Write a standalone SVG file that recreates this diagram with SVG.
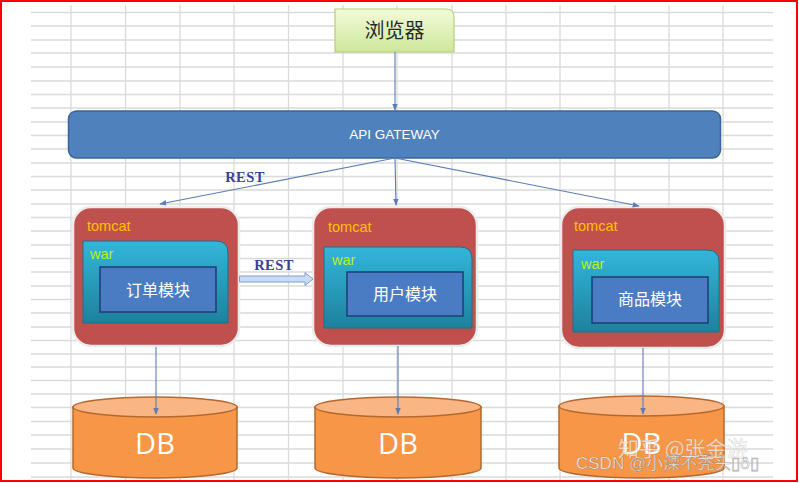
<svg xmlns="http://www.w3.org/2000/svg" width="799" height="483" viewBox="0 0 799 483">
<style>
.grid line{stroke:#dadada;stroke-width:1.3}
.conn{stroke:#5a7db5;stroke-width:1.1;fill:none}
.tomcat{fill:#c0504d;stroke:#ececec;stroke-width:2.5}
.war{fill:url(#warG);stroke:#1c7088;stroke-width:1}
.mod{fill:#4a7cc4;stroke:#1e3d72;stroke-width:1.5}
.modt{font-family:"Noto Sans CJK SC",sans-serif;font-size:16px;fill:#fff;text-anchor:middle}
.tl{font-family:"Liberation Sans",Arial,sans-serif;font-size:14.5px;fill:#ffc000}
.wl{font-family:"Liberation Sans",Arial,sans-serif;font-size:14.5px;fill:#b6f21c}
.rest{font-family:"Liberation Serif","Times New Roman",serif;font-weight:bold;font-size:14.5px;letter-spacing:0.4px;fill:#3b3f9c}
.dbb{fill:#f79646;stroke:#b5692f;stroke-width:1.5}
.dbt{fill:#f9b583;stroke:#b5692f;stroke-width:1.5}
.dbl{font-family:"Open Sans","Liberation Sans",sans-serif;font-size:29px;fill:#fff;text-anchor:middle}
</style>
<defs>
<linearGradient id="brG" x1="0" y1="0" x2="0" y2="1"><stop offset="0" stop-color="#f3fbd9"/><stop offset="1" stop-color="#cde79a"/></linearGradient>
<linearGradient id="warG" x1="0" y1="0" x2="0" y2="1"><stop offset="0" stop-color="#33b6da"/><stop offset="1" stop-color="#1d819d"/></linearGradient>
<marker id="ah" viewBox="0 0 10 10" refX="9" refY="5" markerWidth="7" markerHeight="7" orient="auto" markerUnits="userSpaceOnUse"><path d="M0,1 L10,5 L0,9 Z" fill="#5a7db5"/></marker>
</defs>
<rect x="0" y="0" width="799" height="483" fill="#fff"/>
<g class="grid">
<line x1="71" y1="5" x2="71" y2="480"/><line x1="125.5" y1="5" x2="125.5" y2="480"/><line x1="180" y1="5" x2="180" y2="480"/><line x1="234" y1="5" x2="234" y2="480"/><line x1="288.5" y1="5" x2="288.5" y2="480"/><line x1="343" y1="5" x2="343" y2="480"/><line x1="397" y1="5" x2="397" y2="480"/><line x1="452" y1="5" x2="452" y2="480"/><line x1="506" y1="5" x2="506" y2="480"/><line x1="560" y1="5" x2="560" y2="480"/><line x1="615" y1="5" x2="615" y2="480"/><line x1="669" y1="5" x2="669" y2="480"/><line x1="723" y1="5" x2="723" y2="480"/>
<line x1="31" y1="12.5" x2="773" y2="12.5"/><line x1="31" y1="26" x2="773" y2="26"/><line x1="31" y1="40" x2="773" y2="40"/><line x1="31" y1="53" x2="773" y2="53"/><line x1="31" y1="67" x2="773" y2="67"/><line x1="31" y1="81" x2="773" y2="81"/><line x1="31" y1="94.5" x2="773" y2="94.5"/><line x1="31" y1="108" x2="773" y2="108"/><line x1="31" y1="122" x2="773" y2="122"/><line x1="31" y1="135.5" x2="773" y2="135.5"/><line x1="31" y1="149" x2="773" y2="149"/><line x1="31" y1="163" x2="773" y2="163"/><line x1="31" y1="176.5" x2="773" y2="176.5"/><line x1="31" y1="190" x2="773" y2="190"/><line x1="31" y1="204" x2="773" y2="204"/><line x1="31" y1="217.5" x2="773" y2="217.5"/><line x1="31" y1="231" x2="773" y2="231"/><line x1="31" y1="245" x2="773" y2="245"/><line x1="31" y1="258.5" x2="773" y2="258.5"/><line x1="31" y1="272" x2="773" y2="272"/><line x1="31" y1="286" x2="773" y2="286"/><line x1="31" y1="299.5" x2="773" y2="299.5"/><line x1="31" y1="313" x2="773" y2="313"/><line x1="31" y1="327" x2="773" y2="327"/><line x1="31" y1="340.5" x2="773" y2="340.5"/><line x1="31" y1="354" x2="773" y2="354"/><line x1="31" y1="367" x2="773" y2="367"/><line x1="31" y1="380.5" x2="773" y2="380.5"/><line x1="31" y1="394" x2="773" y2="394"/><line x1="31" y1="407.5" x2="773" y2="407.5"/><line x1="31" y1="421.5" x2="773" y2="421.5"/><line x1="31" y1="435" x2="773" y2="435"/><line x1="31" y1="449" x2="773" y2="449"/><line x1="31" y1="463" x2="773" y2="463"/><line x1="31" y1="477" x2="773" y2="477"/>
</g>
<g id="browser">
<path d="M335,9 H446 Q454,9 454,17 V52 H335 Z" fill="url(#brG)" stroke="#b3cf7c" stroke-width="1.2"/>
<text x="394.5" y="38" font-family="'Noto Sans CJK SC',sans-serif" font-size="20" fill="#2b2b2b" text-anchor="middle">浏览器</text>
</g>
<g id="gateway">
<rect x="68.5" y="111" width="652" height="47" rx="8" fill="#4f81bd" stroke="#3a6497" stroke-width="1.5"/>
<text x="394.5" y="139" font-family="'Liberation Sans',Arial,sans-serif" font-size="13.5" fill="#fff" text-anchor="middle">API GATEWAY</text>
</g>
<g id="tomcat1">
<rect class="tomcat" x="73" y="207" width="166" height="139" rx="18"/>
<text class="tl" x="87" y="231">tomcat</text>
<path class="war" d="M83,241 H216 Q228,241 228,253 V323 H83 Z"/>
<text class="wl" x="90" y="259">war</text>
<rect class="mod" x="100" y="267" width="116" height="45"/>
<text class="modt" x="158" y="296">订单模块</text>
</g>
<g id="tomcat2">
<rect class="tomcat" x="313" y="207" width="164" height="139" rx="18"/>
<text class="tl" x="328" y="232">tomcat</text>
<path class="war" d="M324,247 H460 Q472,247 472,259 V328 H324 Z"/>
<text class="wl" x="332" y="265">war</text>
<rect class="mod" x="347" y="272" width="116" height="44"/>
<text class="modt" x="405" y="300">用户模块</text>
</g>
<g id="tomcat3">
<rect class="tomcat" x="561" y="207" width="164" height="141" rx="18"/>
<text class="tl" x="574" y="231">tomcat</text>
<path class="war" d="M573,250 H707 Q719,250 719,262 V332 H573 Z"/>
<text class="wl" x="581" y="269">war</text>
<rect class="mod" x="592" y="277" width="116" height="46"/>
<text class="modt" x="650" y="305">商品模块</text>
</g>
<g id="db1">
<path class="dbb" d="M73,407 V468 A82,10 0 0 0 237,468 V407 Z"/>
<ellipse class="dbt" cx="155" cy="407" rx="82" ry="10"/>
<text class="dbl" x="155" y="454">DB</text>
</g>
<g id="db2">
<path class="dbb" d="M315,407 V468 A83,10 0 0 0 481,468 V407 Z"/>
<ellipse class="dbt" cx="398" cy="407" rx="83" ry="10"/>
<text class="dbl" x="398" y="454">DB</text>
</g>
<g id="db3">
<path class="dbb" d="M559,406 V468 A82.5,10 0 0 0 724,468 V406 Z"/>
<ellipse class="dbt" cx="641.5" cy="406" rx="82.5" ry="10"/>
<text class="dbl" x="641.5" y="454">DB</text>
</g>
<g id="connectors">
<line class="conn" x1="395" y1="52" x2="395" y2="110" marker-end="url(#ah)"/>
<line class="conn" x1="395" y1="158" x2="160" y2="204" marker-end="url(#ah)"/>
<line class="conn" x1="395" y1="158" x2="396" y2="205" marker-end="url(#ah)"/>
<line class="conn" x1="395" y1="158" x2="639" y2="206" marker-end="url(#ah)"/>
<line class="conn" x1="156" y1="347" x2="156" y2="414" marker-end="url(#ah)"/>
<line class="conn" x1="398" y1="346" x2="398" y2="414" marker-end="url(#ah)"/>
<line class="conn" x1="643" y1="348" x2="643" y2="414" marker-end="url(#ah)"/>
<path d="M239.5,276 H305 V272.5 L313,279 L305,285.5 V282 H239.5 Z" fill="#c9dcf3" stroke="#7f9fcf" stroke-width="1"/>
<text class="rest" x="245" y="182" text-anchor="middle">REST</text>
<text class="rest" x="274" y="270" text-anchor="middle">REST</text>
</g>
<g id="watermark">
<text x="618" y="456" font-family="'Noto Sans CJK SC',sans-serif" font-size="21" fill="#fff" fill-opacity="0.7" stroke="#888" stroke-opacity="0.35" stroke-width="0.6">知乎 @张金游</text>
<text x="576" y="469" font-family="'Liberation Sans','Noto Sans CJK SC',sans-serif" font-size="17" fill="#fff" fill-opacity="0.85" stroke="#666" stroke-opacity="0.55" stroke-width="0.6">CSDN @小滦不秃头▯ȏ▯</text>
</g>
<rect x="1" y="1" width="796" height="480" fill="none" stroke="#ff0000" stroke-width="2"/>
</svg>
